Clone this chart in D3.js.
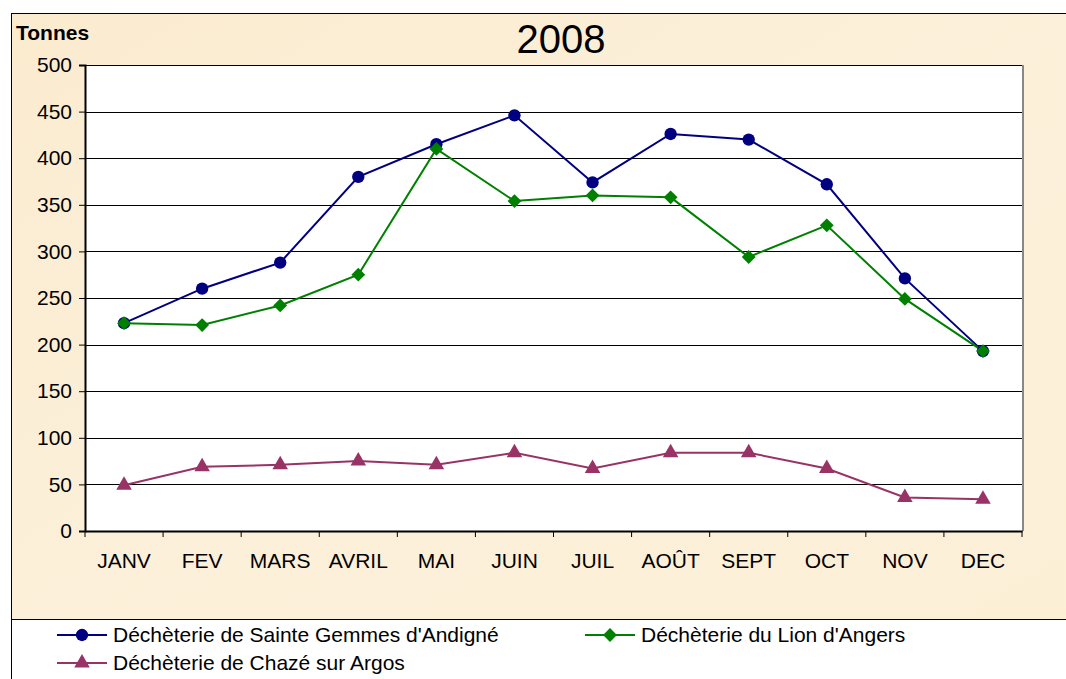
<!DOCTYPE html>
<html><head><meta charset="utf-8">
<script src="https://cdn.jsdelivr.net/npm/d3@7"></script>
<style>body{margin:0;background:#fff}svg{display:block}</style>
</head><body>
<svg id="c" width="1066" height="679"></svg>
<script>
const months = ["JANV","FEV","MARS","AVRIL","MAI","JUIN","JUIL","AOÛT","SEPT","OCT","NOV","DEC"];
const sainteGemmes = [223,260,288,380,415,446,374,426,420,372,271,193];
const lionAngers = [223,221,242,275,410,354,360,358,294,328,249,193];
const chaze = [49,69,71,75,71,84,67,84,84,67,36,34];
const yTicks = [0,50,100,150,200,250,300,350,400,450,500];
const seriesNames = ["Déchèterie de Sainte Gemmes d'Andigné","Déchèterie du Lion d'Angers","Déchèterie de Chazé sur Argos"];

const series = [
  {name: seriesNames[0], values: sainteGemmes, color: "#000080", sym: d3.symbolCircle, size: 120, rot: 0},
  {name: seriesNames[1], values: lionAngers, color: "#008000", sym: d3.symbolSquare, size: 95, rot: 45},
  {name: seriesNames[2], values: chaze, color: "#993366", sym: d3.symbolTriangle, size: 105, rot: 0}
];

const svg = d3.select("#c");
const font = "Liberation Sans, Arial, sans-serif";

// background
const defs = svg.append("defs");
const g1 = defs.append("linearGradient").attr("id","bg").attr("x1","0").attr("y1","0").attr("x2","1").attr("y2","1");
g1.append("stop").attr("offset","0").attr("stop-color","#fbecd0");
g1.append("stop").attr("offset","0.5").attr("stop-color","#fcf0da");
g1.append("stop").attr("offset","1").attr("stop-color","#fbefd6");
svg.append("rect").attr("x",11.5).attr("y",13.5).attr("width",1060).attr("height",670)
  .attr("fill","url(#bg)").attr("stroke","#000").attr("stroke-width",1);
// legend area
svg.append("rect").attr("x",12).attr("y",619.5).attr("width",1060).attr("height",70).attr("fill","#fff");
svg.append("line").attr("x1",11).attr("x2",1066).attr("y1",619.5).attr("y2",619.5).attr("stroke","#000");

const m = {left:85, right:1022, top:65, bottom:531};
const x = d3.scaleBand().domain(months).range([m.left, m.right]);
const y = d3.scaleLinear().domain([0,500]).range([m.bottom, m.top]);

// plot area
svg.append("rect").attr("x",m.left).attr("y",m.top).attr("width",m.right-m.left).attr("height",m.bottom-m.top)
  .attr("fill","#fff");
svg.append("line").attr("x1",m.right+1).attr("x2",m.right+1).attr("y1",m.top).attr("y2",m.bottom)
  .attr("stroke","#888").attr("stroke-width",2);

// gridlines
svg.append("g").selectAll("line").data(yTicks.filter(d=>d>0)).join("line")
  .attr("x1",m.left).attr("x2",m.right).attr("y1",d=>Math.round(y(d))+0.5).attr("y2",d=>Math.round(y(d))+0.5)
  .attr("stroke","#000").attr("stroke-width",1);

// y axis
const ya = svg.append("g").attr("transform",`translate(${m.left},0)`)
  .call(d3.axisLeft(y).tickValues(yTicks).tickSize(6).tickPadding(7).tickFormat(d3.format("d")));
ya.select(".domain").attr("stroke","#000").attr("stroke-width",2);
ya.selectAll("text").attr("font-family",font).attr("font-size",21).attr("fill","#000");

// x axis
const xa = svg.append("g").attr("transform",`translate(0,${m.bottom})`)
  .call(d3.axisBottom(x).tickSize(0).tickPadding(22));
xa.select(".domain").attr("stroke","#000").attr("stroke-width",2);
xa.selectAll("text").attr("font-family",font).attr("font-size",21).attr("fill","#000");
// category boundary ticks
xa.append("g").selectAll("line").data(months.concat(["_end"])).join("line")
  .attr("x1",(d,i)=>m.left + i*x.bandwidth()).attr("x2",(d,i)=>m.left + i*x.bandwidth())
  .attr("y1",0).attr("y2",6).attr("stroke","#000");

// lines and markers
const line = d3.line().x((d,i)=>x(months[i])+x.bandwidth()/2).y(d=>y(d));
series.forEach(s=>{
  svg.append("path").datum(s.values).attr("d",line).attr("fill","none")
    .attr("stroke",s.color).attr("stroke-width",2);
});
series.forEach(s=>{
  svg.append("g").selectAll("path").data(s.values).join("path")
    .attr("transform",(d,i)=>`translate(${x(months[i])+x.bandwidth()/2},${y(d)}) rotate(${s.rot})`)
    .attr("d",d3.symbol().type(s.sym).size(s.size)).attr("fill",s.color);
});

// title
svg.append("text").attr("x",561).attr("y",53).attr("text-anchor","middle")
  .attr("font-family",font).attr("font-size",40).text("2008");
svg.append("text").attr("x",16).attr("y",40).attr("font-family",font).attr("font-size",21)
  .attr("font-weight","bold").text("Tonnes");

// legend
const legPos = [[57,635],[585,635],[57,663]];
series.forEach((s,i)=>{
  const [lx,ly] = legPos[i];
  const g = svg.append("g").attr("transform",`translate(${lx},${ly})`);
  g.append("line").attr("x1",0).attr("x2",50).attr("y1",0).attr("y2",0).attr("stroke",s.color).attr("stroke-width",2);
  g.append("path").attr("transform",`translate(25,0) rotate(${s.rot})`).attr("d",d3.symbol().type(s.sym).size(s.size)).attr("fill",s.color);
  g.append("text").attr("x",56).attr("y",7).attr("font-family",font).attr("font-size",21).text(s.name);
});
</script>
</body></html>
